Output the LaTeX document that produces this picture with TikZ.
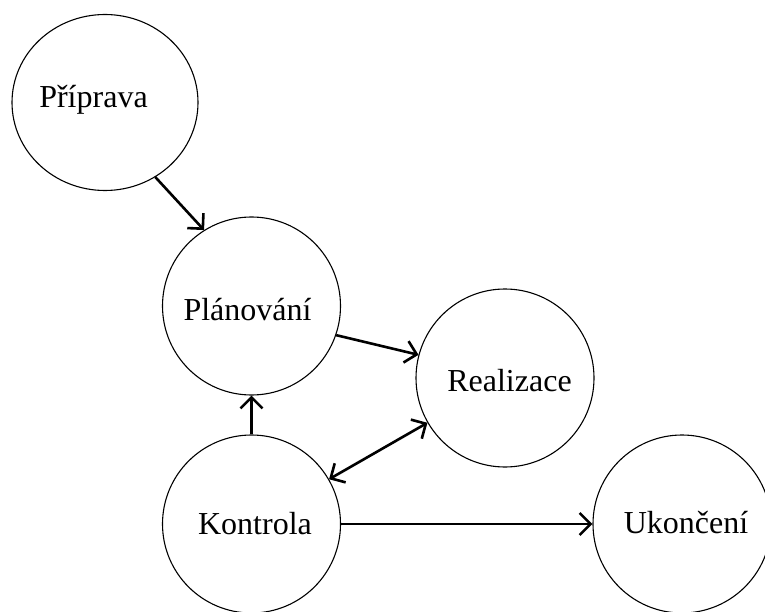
\documentclass[tikz,border=0pt]{standalone}
\usepackage{fontspec}
\setmainfont{Liberation Serif}
\usetikzlibrary{arrows.meta,shapes.geometric}
\begin{document}
\begin{tikzpicture}[x=1pt,y=-1pt,
  phase/.style={draw,circle,line width=1.1pt,minimum size=178pt,inner sep=0pt},
  lbl/.style={anchor=base,inner sep=0pt,font=\fontsize{32pt}{36pt}\selectfont},
  barb/.tip={Straight Barb[length=11pt,width=22pt]},
  flow/.style={line width=2.6pt,-barb},
  both/.style={line width=2.6pt,barb-barb}]
\useasboundingbox (0,0) rectangle (765,612);
% phases
\node[draw,ellipse,line width=1.1pt,minimum width=186pt,minimum height=176pt,inner sep=0pt] (prip) at (105,102.5) {};
\node[phase] (plan) at (251.5,306) {};
\node[phase] (real) at (505,378) {};
\node[phase] (kont) at (251.5,524) {};
\node[phase] (ukon) at (682,524) {};
% labels
\node[lbl] (tprip) at (93.5,108) {Příprava};
\node[lbl] (tplan) at (247.5,320) {Plánování};
\node[lbl] (treal) at (509.5,391) {Realizace};
\node[lbl] (tkont) at (255,534) {Kontrola};
\node[lbl] (tukon) at (686,533) {Ukončení};
% connectors
\draw[flow] (prip.-56) -- (plan.122);
\draw[flow] (plan.-19) -- (real.165);
\draw[flow] (kont.north) -- (plan.south);
\draw[both] (kont.30) -- (real.-150);
\draw[flow] (kont.east) -- (ukon.west);
\end{tikzpicture}
\end{document}
